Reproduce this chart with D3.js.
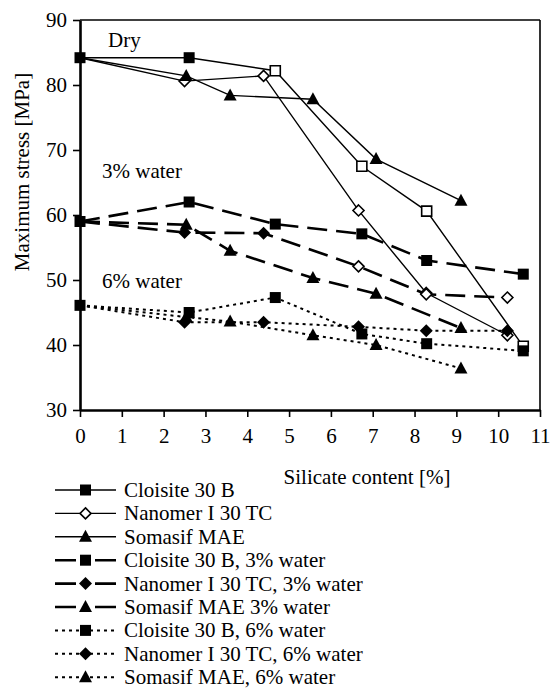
<!DOCTYPE html>
<html lang="en">
<head>
<meta charset="utf-8">
<title>maximum stress</title>
<script src="https://cdn.jsdelivr.net/npm/d3@7"></script>
<style>
	body{ margin:0; background:#fff; }
	svg text{ font-family:'Liberation Serif','DejaVu Serif','Times New Roman',serif; font-size:21px; fill:#000; }
</style>
</head>
<body>
<div id="chart"></div>
<script>
// silicate content (%) per clay
let xCloisite=[0, 2.61, 4.67, 6.74, 8.29, 10.6];
let xNanomer=[0, 2.5, 4.39, 6.66, 8.28, 10.22];
let xSomasif=[0, 2.54, 3.59, 5.57, 7.08, 9.11];

// maximum stress (MPa)
let cloisiteDry=[84.2, 84.2, 82.2, 67.5, 60.6, 39.8];
let nanomerDry=[84.2, 80.6, 81.4, 60.7, 48.0, 41.5];
let somasifDry=[84.2, 81.4, 78.4, 77.8, 68.6, 62.2];
let cloisite3=[59.0, 62.0, 58.6, 57.1, 53.0, 50.9];
let nanomer3=[59.0, 57.3, 57.2, 52.1, 47.8, 47.3];
let somasif3=[59.0, 58.5, 54.5, 50.3, 47.9, 42.6];
let cloisite6=[46.1, 45.0, 47.3, 41.7, 40.2, 39.1];
let nanomer6=[46.1, 43.5, 43.5, 42.8, 42.2, 42.2];
let somasif6=[46.1, 44.3, 43.6, 41.5, 40.0, 36.4];

let xTicks=[0,1,2,3,4,5,6,7,8,9,10,11];
let yTicks=[30,40,50,60,70,80,90];
let seriesNames=["Cloisite 30 B","Nanomer I 30 TC","Somasif MAE",
	"Cloisite 30 B, 3% water","Nanomer I 30 TC, 3% water","Somasif MAE 3% water",
	"Cloisite 30 B, 6% water","Nanomer I 30 TC, 6% water","Somasif MAE, 6% water"];
let groupLabels=["Dry","3% water","6% water"];

let series=[
	{x:xCloisite, y:cloisiteDry, shape:"square", hollow:[2,3,4,5], style:"solid"},
	{x:xNanomer, y:nanomerDry, shape:"diamond", hollow:[1,2,3,4,5], style:"solid", skip0:true},
	{x:xSomasif, y:somasifDry, shape:"triangle", hollow:[], style:"solid", skip0:true},
	{x:xCloisite, y:cloisite3, shape:"square", hollow:[], style:"dash"},
	{x:xNanomer, y:nanomer3, shape:"diamond", hollow:[3,4,5], style:"dash", skip0:true},
	{x:xSomasif, y:somasif3, shape:"triangle", hollow:[], style:"dash", skip0:true},
	{x:xCloisite, y:cloisite6, shape:"square", hollow:[], style:"dot"},
	{x:xNanomer, y:nanomer6, shape:"diamond", hollow:[], style:"dot", skip0:true},
	{x:xSomasif, y:somasif6, shape:"triangle", hollow:[], style:"dot", skip0:true}
];
series.forEach((s,i)=>{ s.name=seriesNames[i]; });

let lineStyle={
	solid:{w:1.4, dash:null},
	dash:{w:2.6, dash:"20,9"},
	dot:{w:2, dash:"3,4"}
};

let svg=d3.select("#chart").append("svg").attr("width",550).attr("height",688)
	.attr("font-family","'Liberation Serif','DejaVu Serif',serif");
let x=d3.scaleLinear().domain([0,11]).range([80,540]);
let y=d3.scaleLinear().domain([30,90]).range([410,20]);

function marker(shape){
	if(shape=="square") return "M-5.5,-5.5H5.5V5.5H-5.5Z";
	if(shape=="diamond") return "M0,-6.5L6.5,0L0,6.5L-6.5,0Z";
	return "M0,-7L6.5,5L-6.5,5Z";
}
function hollowMarker(shape){
	if(shape=="square") return "M-5,-5H5V5H-5Z";
	if(shape=="diamond") return "M0,-5.5L5.5,0L0,5.5L-5.5,0Z";
	return "M0,-6L5.5,4.5L-5.5,4.5Z";
}

// frame
svg.append("line").attr("x1",x(0)).attr("x2",x(11)).attr("y1",y(90)).attr("y2",y(90))
	.attr("stroke","#000").attr("stroke-width",1.6);
svg.append("line").attr("x1",x(11)).attr("x2",x(11)).attr("y1",y(90)).attr("y2",y(30))
	.attr("stroke","#000").attr("stroke-width",1.6);

// axes
let gy=svg.append("g").attr("transform","translate("+x(0)+",0)")
	.call(d3.axisLeft(y).tickValues(yTicks).tickSize(7).tickPadding(6).tickSizeOuter(0));
let gx=svg.append("g").attr("transform","translate(0,"+y(30)+")")
	.call(d3.axisBottom(x).tickValues(xTicks).tickSize(7).tickPadding(11).tickSizeOuter(0));
[gx,gy].forEach(g=>{
	g.attr("font-family",null).attr("font-size",null);
	g.select(".domain").attr("stroke-width",2.6);
	g.selectAll(".tick line").attr("stroke-width",1.6);
});

svg.append("text").attr("x",367).attr("y",484).attr("text-anchor","middle").text("Silicate content [%]");
svg.append("text").attr("transform","translate(29,172) rotate(-90)").attr("text-anchor","middle")
	.text("Maximum stress [MPa]");

// group labels
svg.append("text").attr("x",108).attr("y",47).text(groupLabels[0]);
svg.append("text").attr("x",102).attr("y",178).text(groupLabels[1]);
svg.append("text").attr("x",102).attr("y",288).text(groupLabels[2]);

// lines
let line=d3.line().x(d=>x(d[0])).y(d=>y(d[1]));
series.forEach(s=>{
	let pts=s.x.map((v,i)=>[v,s.y[i]]);
	svg.append("path").attr("d",line(pts)).attr("fill","none").attr("stroke","#000")
		.attr("stroke-width",lineStyle[s.style].w)
		.attr("stroke-dasharray",lineStyle[s.style].dash);
});

// markers
series.forEach(s=>{
	s.x.forEach((v,i)=>{
		if(i==0 && s.skip0) return;
		let open=s.hollow.indexOf(i)>=0;
		svg.append("path")
			.attr("d",open ? hollowMarker(s.shape) : marker(s.shape))
			.attr("transform","translate("+x(v)+","+y(s.y[i])+")")
			.attr("fill",open ? "#fff" : "#000")
			.attr("stroke","#000").attr("stroke-width",open ? 1.6 : 0);
	});
});

// legend
let leg=svg.append("g");
series.forEach((s,i)=>{
	let ly=490+i*23.4;
	let st=lineStyle[s.style];
	leg.append("line").attr("x1",55).attr("x2",116).attr("y1",ly).attr("y2",ly)
		.attr("stroke","#000").attr("stroke-width",st.w)
		.attr("stroke-dasharray",s.style=="dash" ? "21,19" : st.dash);
	let open=s.shape=="diamond" && s.style=="solid";
	leg.append("path").attr("d",open ? hollowMarker(s.shape) : marker(s.shape))
		.attr("transform","translate(85.5,"+ly+")")
		.attr("fill",open ? "#fff" : "#000")
		.attr("stroke","#000").attr("stroke-width",open ? 1.6 : 0);
	leg.append("text").attr("x",124).attr("y",ly+7).text(s.name);
});
</script>
</body>
</html>
